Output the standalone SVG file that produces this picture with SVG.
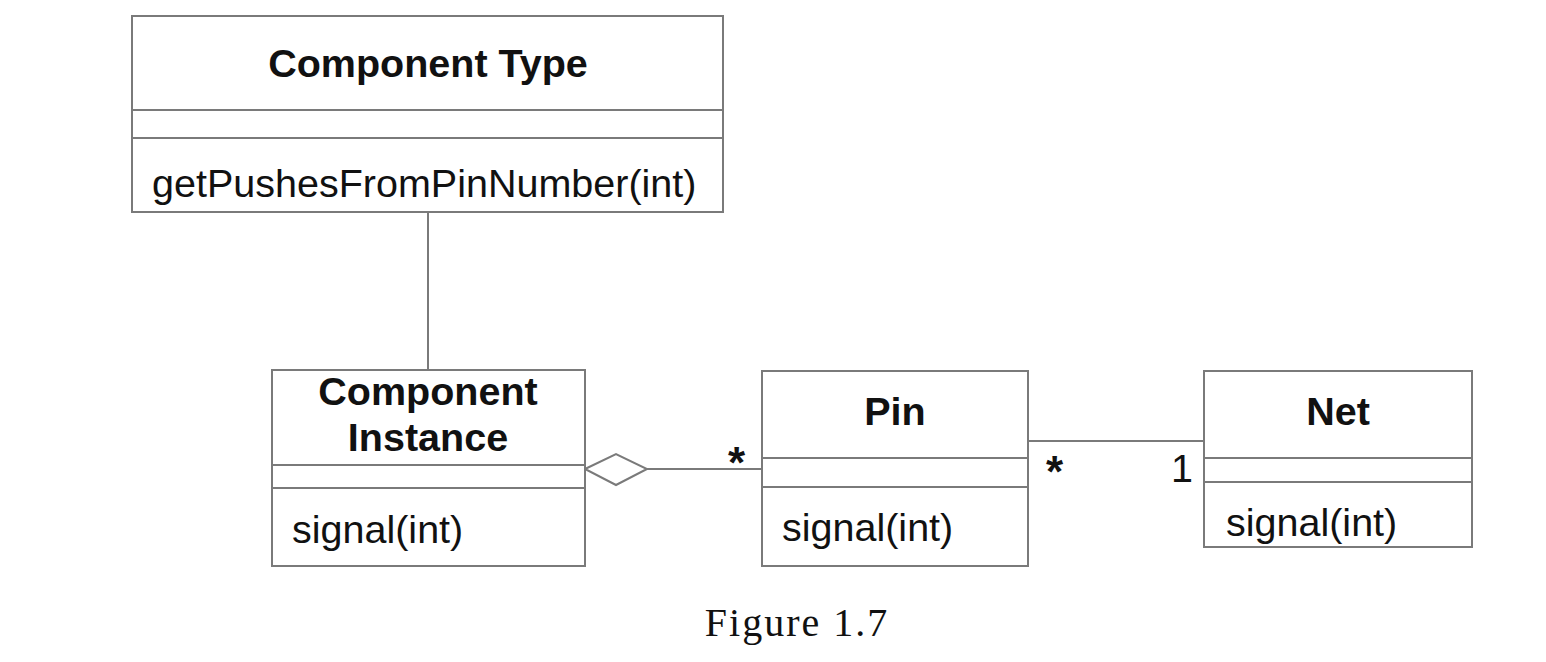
<svg xmlns="http://www.w3.org/2000/svg" width="1546" height="662" viewBox="0 0 1546 662">
<style>
.box{fill:#fff;stroke:#7a7a7a;stroke-width:2}
.div{stroke:#7a7a7a;stroke-width:2}
.conn{stroke:#7a7a7a;stroke-width:2;fill:none}
.t{font-family:"Liberation Sans",Arial,sans-serif;font-size:39.5px;fill:#111}
.b{font-weight:bold}
.m{text-anchor:middle}
.star{font-family:"Liberation Sans",Arial,sans-serif;font-size:44px;font-weight:bold;fill:#111}
.cap{font-family:"Liberation Serif","Times New Roman",serif;font-size:40px;fill:#111;letter-spacing:2px}
</style>
<rect width="1546" height="662" fill="#fff"/>
<g id="connectors">
<line class="conn" x1="428" y1="212" x2="428" y2="370"/>
<polygon class="conn" points="585,469 616,454 647,469 616,485" fill="#fff"/>
<line class="conn" x1="647" y1="469" x2="762" y2="469"/>
<line class="conn" x1="1028" y1="441" x2="1204" y2="441"/>
<text class="star" x="728" y="478">*</text>
<text class="star" x="1046" y="487">*</text>
<text class="t" x="1171" y="482">1</text>
</g>
<g id="component-type">
<rect class="box" x="132" y="16" width="591" height="196"/>
<line class="div" x1="132" y1="110" x2="723" y2="110"/>
<line class="div" x1="132" y1="138" x2="723" y2="138"/>
<text class="t b m" x="428" y="77">Component Type</text>
<text class="t" x="152" y="197">getPushesFromPinNumber(int)</text>
</g>
<g id="component-instance">
<rect class="box" x="272" y="370" width="313" height="196"/>
<line class="div" x1="272" y1="465" x2="585" y2="465"/>
<line class="div" x1="272" y1="488" x2="585" y2="488"/>
<text class="t b m" x="428" y="405">Component</text>
<text class="t b m" x="428" y="451">Instance</text>
<text class="t" x="292" y="543">signal(int)</text>
</g>
<g id="pin">
<rect class="box" x="762" y="371" width="266" height="195"/>
<line class="div" x1="762" y1="458" x2="1028" y2="458"/>
<line class="div" x1="762" y1="487" x2="1028" y2="487"/>
<text class="t b m" x="895" y="425">Pin</text>
<text class="t" x="782" y="541">signal(int)</text>
</g>
<g id="net">
<rect class="box" x="1204" y="371" width="268" height="176"/>
<line class="div" x1="1204" y1="458" x2="1472" y2="458"/>
<line class="div" x1="1204" y1="482" x2="1472" y2="482"/>
<text class="t b m" x="1338" y="425">Net</text>
<text class="t" x="1226" y="536">signal(int)</text>
</g>
<text class="cap" x="797" y="636" text-anchor="middle">Figure 1.7</text>
</svg>
